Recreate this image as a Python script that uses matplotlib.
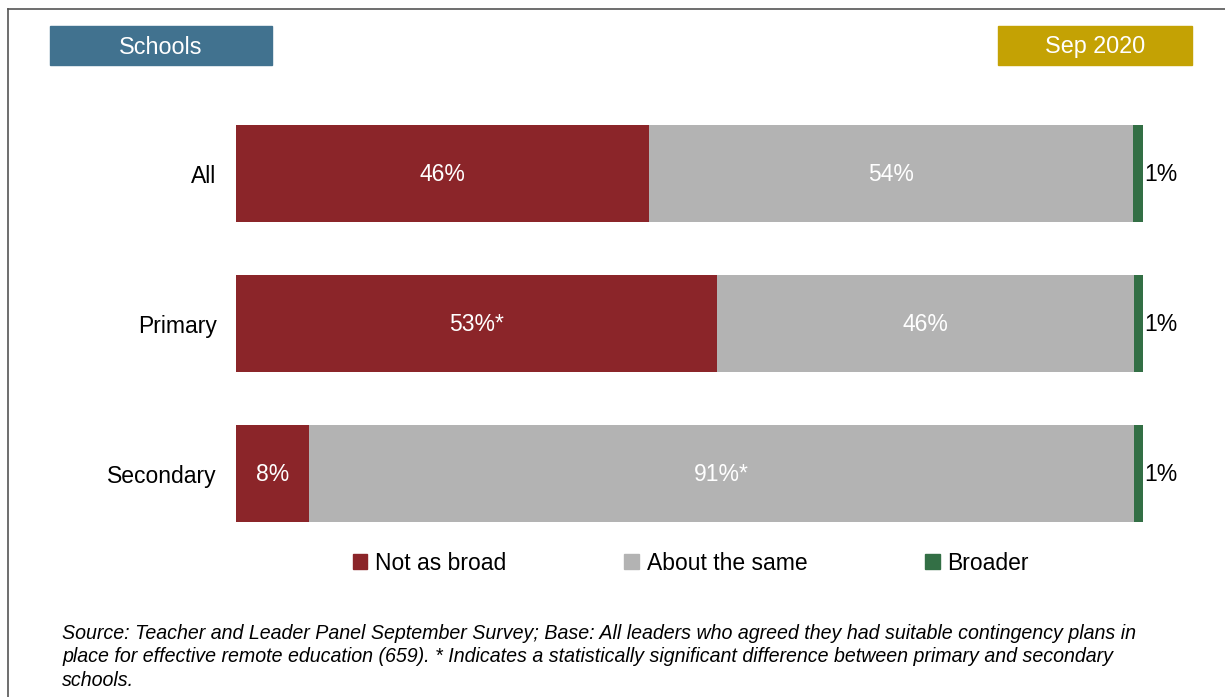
import matplotlib.pyplot as plt
from matplotlib.patches import Patch, Rectangle
from matplotlib.lines import Line2D

plt.rcParams['font.family'] = ['Liberation Sans', 'DejaVu Sans']

# Data (bar lengths estimated, labels as printed)
groups = ['All', 'Primary', 'Secondary']
series = ['Not as broad', 'About the same', 'Broader']
not_as_broad = [45.5, 53.0, 8.0]
about_same = [53.4, 46.0, 91.0]
broader = [1.1, 1.0, 1.0]
labels_not = ['46%', '53%*', '8%']
labels_same = ['54%', '46%', '91%*']
labels_broader = ['1%', '1%', '1%']

colors = ['#8B2529', '#B3B3B3', '#336F45']
fs = 16.5

W, H = 1225, 697
fig = plt.figure(figsize=(W / 100, H / 100), dpi=100)

# frame lines (left and top)
fig.add_artist(Line2D([8 / W, 8 / W], [0, 1 - 9 / H], color='#555555', lw=1.2))
fig.add_artist(Line2D([8 / W, 1], [1 - 9 / H, 1 - 9 / H], color='#555555', lw=1.2))

ax = fig.add_axes([236 / W, 1 - 548.5 / H, 907 / W, 450 / H])
y = list(range(len(groups)))
h = 0.65
left = [0] * len(groups)
for vals, labs, col, name in zip([not_as_broad, about_same, broader],
                                 [labels_not, labels_same, labels_broader],
                                 colors, series):
    bars = ax.barh(y, vals, left=left, height=h, color=col, label=name)
    for b, lab, l0, v in zip(bars, labs, left, vals):
        yc = b.get_y() + h / 2 + 0.008
        if name == 'Broader':
            ax.text(l0 + v + 0.15, yc, lab, ha='left', va='center',
                    fontsize=fs, color='black')
        else:
            ax.text(l0 + v / 2, yc, lab, ha='center', va='center',
                    fontsize=fs, color='white')
    left = [a + b for a, b in zip(left, vals)]

ax.set_xlim(0, 100)
ax.set_ylim(2.5, -0.5)
ax.set_yticks(y)
ax.set_yticklabels(groups, fontsize=fs)
ax.tick_params(axis='y', length=0, pad=14)
ax.set_xticks([])
for s in ax.spines.values():
    s.set_visible(False)

handles = [Patch(color=c, label=s) for c, s in zip(colors, series)]
fig.legend(handles=handles, ncol=3, loc='center', bbox_to_anchor=(691 / W, 1 - 563 / H),
           frameon=False, fontsize=fs, handlelength=0.62, handleheight=0.62,
           handletextpad=0.35, columnspacing=5.15, borderpad=0)

# header boxes
def header(x0, x1, text, color):
    fig.add_artist(Rectangle((x0 / W, 1 - 65 / H), (x1 - x0) / W, 39 / H,
                             color=color, transform=fig.transFigure))
    fig.text((x0 + x1) / 2 / W, 1 - 47 / H, text, ha='center', va='center',
             color='white', fontsize=16.8)

header(50, 272, 'Schools', '#41728F')
header(998, 1192, 'Sep 2020', '#C4A204')

note = ('Source: Teacher and Leader Panel September Survey; Base: All leaders who agreed they had suitable contingency plans in\n'
        'place for effective remote education (659). * Indicates a statistically significant difference between primary and secondary\n'
        'schools.')
fig.text(62 / W, 1 - 624 / H, note, ha='left', va='top', fontsize=14.1,
         style='italic', linespacing=1.3)

fig.savefig('out.png', dpi=100)
